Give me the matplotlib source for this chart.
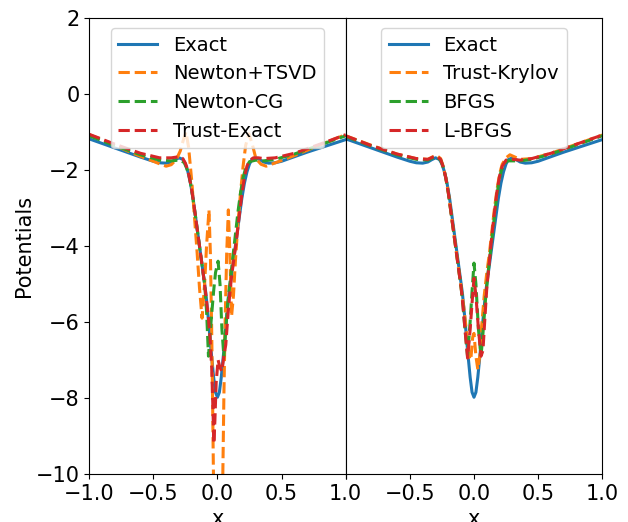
import numpy as np
from matplotlib import pyplot as plt

# exact potential (same on both panels)
x_exact = [-1.0, -0.9, -0.8, -0.7, -0.6, -0.5, -0.45, -0.4, -0.36, -0.33, -0.3, -0.27,
           -0.25, -0.23, -0.21, -0.19, -0.17, -0.15, -0.13, -0.11, -0.09, -0.07, -0.05,
           -0.03, -0.015, 0.0, 0.015, 0.03, 0.05, 0.07, 0.09, 0.11, 0.13, 0.15, 0.17,
           0.19, 0.21, 0.23, 0.25, 0.27, 0.3, 0.33, 0.36, 0.4, 0.45, 0.5, 0.6, 0.7,
           0.8, 0.9, 1.0]
y_exact = [-1.18, -1.3, -1.42, -1.54, -1.66, -1.77, -1.81, -1.82, -1.79, -1.73, -1.68, -1.72,
           -1.84, -2.05, -2.35, -2.75, -3.25, -3.75, -4.25, -4.75, -5.25, -5.95, -6.75,
           -7.45, -7.85, -7.98, -7.85, -7.45, -6.75, -5.95, -5.25, -4.75, -4.25, -3.75, -3.25,
           -2.75, -2.35, -2.05, -1.84, -1.72, -1.68, -1.73, -1.79, -1.82, -1.81, -1.77,
           -1.65, -1.53, -1.42, -1.31, -1.2]

# left panel
x_tsvd = [-1.0, -0.9, -0.8, -0.7, -0.6, -0.5, -0.45, -0.4, -0.36, -0.32, -0.29, -0.265,
          -0.245, -0.225, -0.2, -0.18, -0.16, -0.14, -0.12, -0.1, -0.085, -0.066, -0.055,
          -0.045, -0.038, -0.032, -0.025, 0.0, 0.035, 0.042, 0.05, 0.06, 0.072, 0.085,
          0.097, 0.11, 0.125, 0.14, 0.16, 0.18, 0.2, 0.22, 0.245, 0.27, 0.3, 0.34, 0.38,
          0.42, 0.5, 0.6, 0.7, 0.8, 0.9, 1.0]
y_tsvd = [-1.07, -1.2, -1.35, -1.5, -1.64, -1.77, -1.84, -1.9, -1.86, -1.72, -1.5, -1.2,
          -1.0, -1.4, -2.3, -3.2, -4.1, -5.1, -5.9, -5.0, -4.0, -3.05, -4.2,
          -6.2, -8.0, -9.8, -11.5, -12.5, -11.5, -10.0, -8.0, -6.0, -4.2, -3.05,
          -4.2, -5.85, -5.3, -4.4, -3.4, -2.6, -1.9, -1.35, -1.05, -1.3, -1.7, -1.85, -1.9,
          -1.85, -1.75, -1.62, -1.48, -1.34, -1.2, -1.07]

x_ncg = [-1.0, -0.8, -0.6, -0.45, -0.36, -0.3, -0.26, -0.24, -0.22, -0.2, -0.18, -0.16,
         -0.14, -0.12, -0.1, -0.085, -0.07, -0.05, -0.03, -0.015, 0.005, 0.02, 0.035,
         0.05, 0.065, 0.08, 0.1, 0.12, 0.14, 0.16, 0.18, 0.2, 0.22, 0.25, 0.3, 0.36,
         0.45, 0.6, 0.8, 1.0]
y_ncg = [-1.1, -1.36, -1.6, -1.74, -1.76, -1.74, -1.8, -1.95, -2.15, -2.55, -3.0, -3.5,
         -4.0, -4.5, -5.0, -5.7, -6.9, -6.0, -5.2, -4.7, -4.4, -5.0, -6.2,
         -6.9, -6.2, -5.5, -4.9, -4.3, -3.7, -3.1, -2.6, -2.2, -1.95, -1.78, -1.74, -1.76,
         -1.72, -1.58, -1.34, -1.1]

x_texact = [-1.0, -0.8, -0.6, -0.45, -0.36, -0.3, -0.27, -0.25, -0.23, -0.21, -0.19, -0.17,
            -0.15, -0.13, -0.11, -0.09, -0.07, -0.058, -0.045, -0.035, -0.028, -0.02, -0.01,
            0.005, 0.02, 0.035, 0.05, 0.065, 0.08, 0.095, 0.11, 0.13, 0.15, 0.17, 0.19,
            0.21, 0.23, 0.25, 0.28, 0.32, 0.36, 0.45, 0.6, 0.8, 1.0]
y_texact = [-1.06, -1.32, -1.56, -1.68, -1.68, -1.65, -1.7, -1.82, -2.02, -2.35, -2.75, -3.25,
            -3.75, -4.25, -4.75, -5.3, -5.9, -6.4, -7.2, -8.3, -9.2, -8.6, -7.6,
            -7.0, -7.2, -7.3, -6.9, -6.6, -5.9, -5.3, -4.8, -4.3, -3.8, -3.2, -2.65,
            -2.2, -1.9, -1.75, -1.68, -1.68, -1.7, -1.68, -1.56, -1.32, -1.07]

# right panel
x_krylov = [-1.0, -0.8, -0.6, -0.45, -0.36, -0.32, -0.29, -0.26, -0.24, -0.22, -0.2, -0.18,
            -0.16, -0.14, -0.12, -0.1, -0.08, -0.06, -0.04, -0.025, -0.01, 0.0, 0.015,
            0.03, 0.045, 0.06, 0.08, 0.1, 0.12, 0.14, 0.16, 0.18, 0.2, 0.22, 0.25, 0.28,
            0.32, 0.36, 0.45, 0.6, 0.8, 1.0]
y_krylov = [-1.1, -1.35, -1.58, -1.7, -1.72, -1.65, -1.62, -1.7, -1.9, -2.2, -2.6, -3.1,
            -3.6, -4.1, -4.6, -5.1, -5.6, -6.2, -6.9, -7.0, -6.4, -6.3, -6.9,
            -7.25, -6.9, -6.1, -5.3, -4.7, -4.2, -3.6, -3.0, -2.5, -2.1, -1.85, -1.68, -1.6,
            -1.66, -1.72, -1.7, -1.56, -1.32, -1.08]

x_bfgs = [-1.0, -0.8, -0.6, -0.45, -0.36, -0.32, -0.29, -0.26, -0.24, -0.22, -0.2, -0.18,
          -0.16, -0.14, -0.12, -0.1, -0.085, -0.07, -0.05, -0.03, -0.015, 0.0, 0.015,
          0.035, 0.055, 0.07, 0.09, 0.11, 0.13, 0.15, 0.17, 0.19, 0.21, 0.23, 0.26, 0.3,
          0.36, 0.45, 0.6, 0.8, 1.0]
y_bfgs = [-1.12, -1.37, -1.6, -1.72, -1.74, -1.68, -1.66, -1.74, -1.92, -2.2, -2.6, -3.1,
          -3.6, -4.1, -4.6, -5.1, -5.6, -6.2, -6.9, -6.0, -5.2, -4.45, -5.0,
          -6.2, -6.9, -6.3, -5.4, -4.7, -4.1, -3.5, -2.9, -2.4, -2.05, -1.85, -1.76, -1.76,
          -1.76, -1.72, -1.58, -1.34, -1.1]

x_lbfgs = [-1.0, -0.8, -0.6, -0.45, -0.36, -0.32, -0.29, -0.26, -0.24, -0.22, -0.2, -0.18,
           -0.16, -0.14, -0.12, -0.1, -0.085, -0.07, -0.05, -0.03, -0.015, 0.0, 0.015,
           0.035, 0.055, 0.07, 0.085, 0.1, 0.12, 0.14, 0.16, 0.18, 0.2, 0.22, 0.25, 0.3,
           0.36, 0.45, 0.6, 0.8, 1.0]
y_lbfgs = [-1.1, -1.36, -1.58, -1.7, -1.72, -1.66, -1.64, -1.72, -1.92, -2.2, -2.6, -3.1,
           -3.6, -4.1, -4.6, -5.1, -5.6, -6.2, -6.95, -6.2, -5.5, -4.85, -5.3,
           -6.2, -6.9, -6.75, -5.9, -5.1, -4.4, -3.7, -3.1, -2.55, -2.15, -1.9, -1.74, -1.72,
           -1.74, -1.7, -1.56, -1.32, -1.08]

x_ticks = [-1.0, -0.5, 0.0, 0.5, 1.0]
y_ticks = [-10, -8, -6, -4, -2, 0, 2]


def fmt(t):
    return ('\u2212%.1f' % abs(t)) if t < 0 else '%.1f' % t


plt.rcParams['font.size'] = 15

fig, (ax1, ax2) = plt.subplots(1, 2, sharey=True, figsize=(6.28, 5.22), dpi=100)
fig.subplots_adjust(left=0.142, right=0.959, bottom=0.092, top=0.9655, wspace=0)

lw = 2.2
ax1.plot(x_exact, y_exact, '-', color='C0', lw=lw, label='Exact')
ax1.plot(x_tsvd, y_tsvd, '--', color='C1', lw=lw, label='Newton+TSVD')
ax1.plot(x_ncg, y_ncg, '--', color='C2', lw=lw, label='Newton-CG')
ax1.plot(x_texact, y_texact, '--', color='C3', lw=lw, label='Trust-Exact')

ax2.plot(x_exact, y_exact, '-', color='C0', lw=lw, label='Exact')
ax2.plot(x_krylov, y_krylov, '--', color='C1', lw=lw, label='Trust-Krylov')
ax2.plot(x_bfgs, y_bfgs, '--', color='C2', lw=lw, label='BFGS')
ax2.plot(x_lbfgs, y_lbfgs, '--', color='C3', lw=lw, label='L-BFGS')

for ax in (ax1, ax2):
    ax.set_xlim(-1, 1)
    ax.set_ylim(-10, 2)
    ax.set_xticks(x_ticks)
    ax.set_xlabel('x')
    ax.legend(loc='upper center', fontsize=14)
ax1.set_yticks(y_ticks)
ax1.set_ylabel('Potentials', labelpad=1)
ax2.tick_params(axis='y', left=False)
ax1.set_xticklabels([fmt(t) for t in x_ticks])
ax2.set_xticklabels([''] + [fmt(t) for t in x_ticks[1:]])

plt.savefig('out.png')
